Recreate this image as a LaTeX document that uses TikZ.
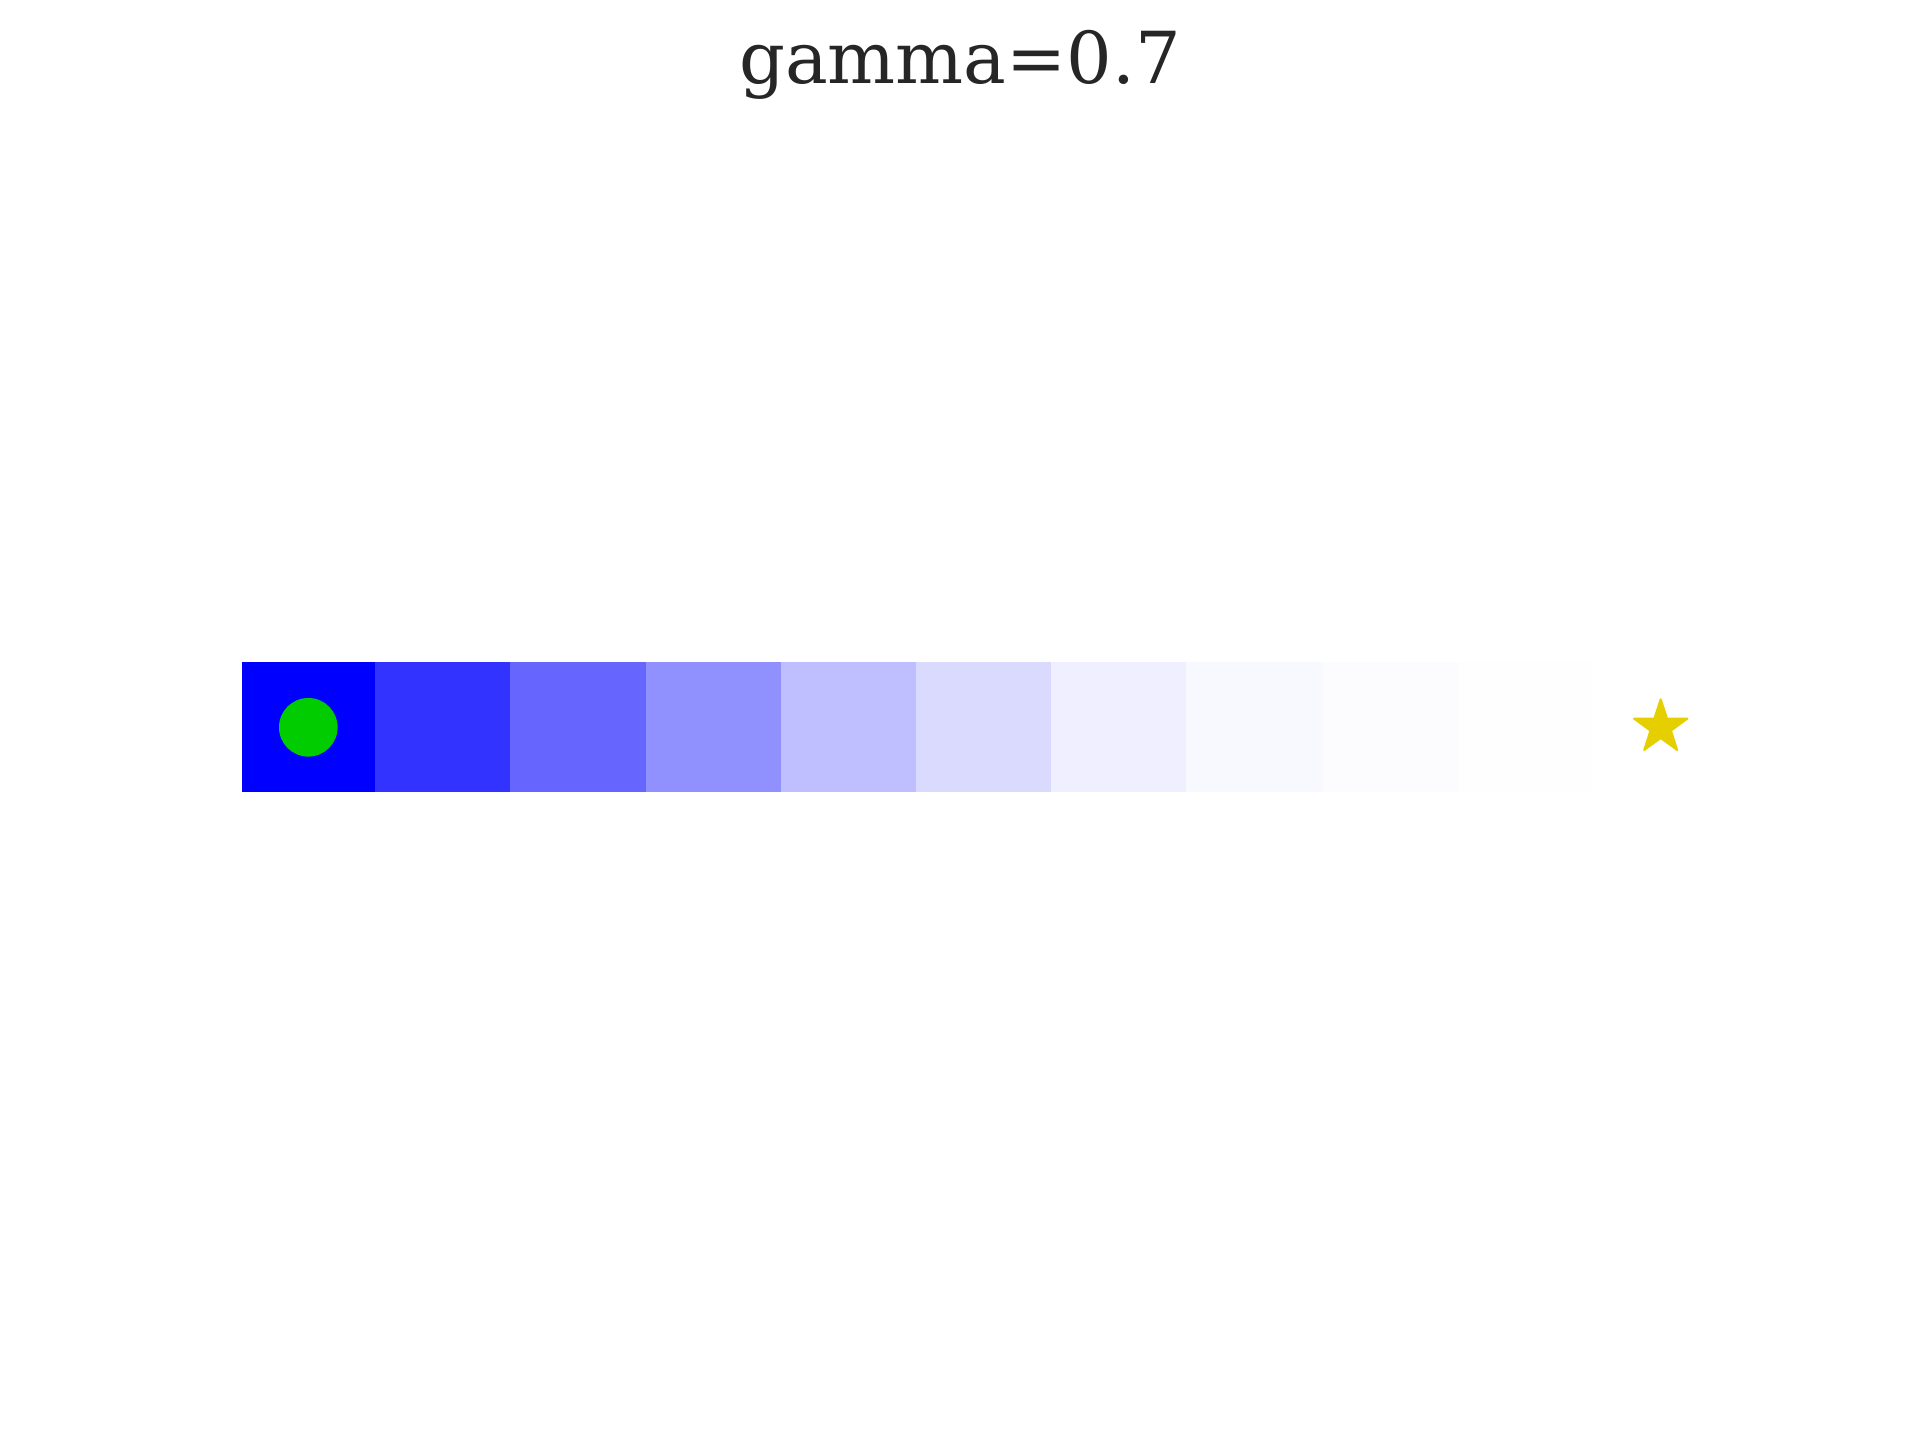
\documentclass[tikz,border=0pt]{standalone}
\usepackage{fontspec}
\setmainfont{DejaVu Serif}
\usetikzlibrary{shapes.geometric}
\definecolor{titlegray}{HTML}{262626}
\definecolor{valA}{HTML}{0000FF}
\definecolor{valB}{HTML}{3333FF}
\definecolor{valC}{HTML}{6666FF}
\definecolor{valD}{HTML}{9090FF}
\definecolor{valE}{HTML}{BFBFFF}
\definecolor{valF}{HTML}{DADAFF}
\definecolor{valG}{HTML}{EFEFFF}
\definecolor{valH}{HTML}{F8F8FF}
\definecolor{valI}{HTML}{FCFCFF}
\definecolor{valJ}{HTML}{FEFEFF}
\definecolor{agentgreen}{HTML}{00CC00}
\definecolor{goalgold}{HTML}{E6CF00}

\begin{document}
\begin{tikzpicture}[x=0.01cm, y=-0.01cm]
\fill[white] (0,0) rectangle (1920,1440);
\useasboundingbox (0,0) rectangle (1920,1440);
\node[font=\fontsize{20.4}{25}\selectfont, text=titlegray, anchor=base] (title) at (960,84) {gamma=0.7};

% value strip
\foreach \x/\xe/\c in {242.4/375/valA, 375/510/valB, 510/645.5/valC, 645.5/781/valD, 781/916/valE, 916/1050.7/valF, 1050.7/1185.7/valG, 1185.7/1322/valH, 1322/1458/valI, 1458/1592.4/valJ}
  \draw[fill=\c, draw=none] (\x,662) rectangle (\xe,792.5);

\node[circle, fill=agentgreen, inner sep=0pt, minimum size=0.586cm] (agent) at (308.3,727.3) {};
\node[star, star points=5, star point ratio=2.6, fill=goalgold, draw=goalgold, line width=0.02cm, line join=round, inner sep=0pt, minimum size=0.56cm] (goal) at (1660.7,727.3) {};
\end{tikzpicture}
\end{document}
